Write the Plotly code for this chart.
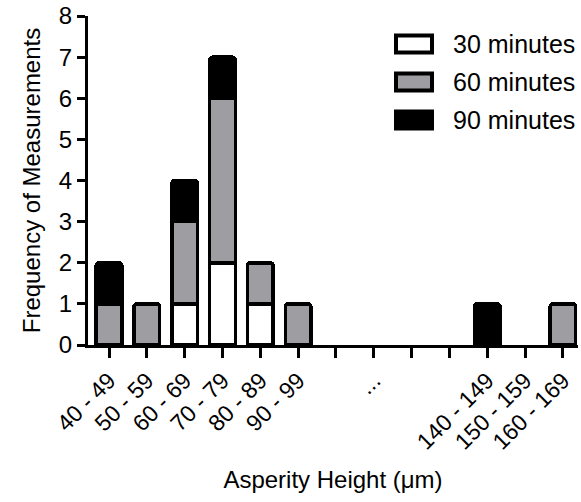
import plotly.graph_objects as go

categories = ["40 - 49", "50 - 59", "60 - 69", "70 - 79", "80 - 89", "90 - 99",
              "", "...", "", "", "140 - 149", "150 - 159", "160 - 169"]
series_names = ["30 minutes", "60 minutes", "90 minutes"]
min30 = [0, 0, 1, 2, 1, 0, 0, 0, 0, 0, 0, 0, 0]
min60 = [1, 1, 2, 4, 1, 1, 0, 0, 0, 0, 0, 0, 1]
min90 = [1, 0, 1, 1, 0, 0, 0, 0, 0, 0, 1, 0, 0]
colors = ["#ffffff", "#9d9da2", "#000000"]
yticks = [0, 1, 2, 3, 4, 5, 6, 7, 8]

FONT = "Liberation Sans, Arial, Helvetica, sans-serif"
xpos = list(range(len(categories)))

fig = go.Figure()
for name, vals, col in zip(series_names, [min30, min60, min90], colors):
    fig.add_trace(go.Bar(
        x=xpos, y=[v if v else None for v in vals], name=name,
        marker=dict(color=col, line=dict(color="#000000", width=3.5)),
        width=0.68, showlegend=False,
    ))

# custom legend (swatches + labels)
px0, px1, py0, py1 = 88, 578, 16, 345
def pxx(v):
    return (v - px0) / (px1 - px0)
def pxy(v):
    return (py1 - v) / (py1 - py0)

shapes = []
annotations = []
centers = [44, 82, 120]
for name, col, cy in zip(series_names, colors, centers):
    shapes.append(dict(type="rect", xref="paper", yref="paper",
                       x0=pxx(396), x1=pxx(432), y0=pxy(cy - 8.5), y1=pxy(cy + 8.5),
                       fillcolor=col, line=dict(color="#000000", width=4)))
    annotations.append(dict(text=name, xref="paper", yref="paper",
                            x=pxx(451), y=pxy(cy), xanchor="left", yanchor="middle",
                            showarrow=False, font=dict(family=FONT, size=25, color="#000000")))

fig.update_layout(
    width=581, height=502,
    margin=dict(l=88, r=3, t=16, b=157),
    barmode="stack",
    barcornerradius=3,
    plot_bgcolor="white", paper_bgcolor="white",
    font=dict(family=FONT, color="#000000"),
    shapes=shapes, annotations=annotations,
    xaxis=dict(
        range=[-0.556, 12.4], tickmode="array", tickvals=xpos, ticktext=categories,
        tickangle=-45, tickfont=dict(size=23, family=FONT),
        showline=True, linecolor="#000000", linewidth=3,
        ticks="outside", ticklen=10, tickwidth=3, tickcolor="#000000",
        showgrid=False, zeroline=False,
        title=dict(text="Asperity Height (μm)", font=dict(size=24, family=FONT), standoff=18),
    ),
    yaxis=dict(
        range=[0, 8], tickmode="array", tickvals=yticks,
        tickfont=dict(size=24, family=FONT),
        showline=True, linecolor="#000000", linewidth=3,
        ticks="outside", ticklen=8, tickwidth=3, tickcolor="#000000",
        showgrid=False, zeroline=False,
        title=dict(text="Frequency of Measurements", font=dict(size=24, family=FONT), standoff=12),
    ),
)

fig.write_html("out.html")
